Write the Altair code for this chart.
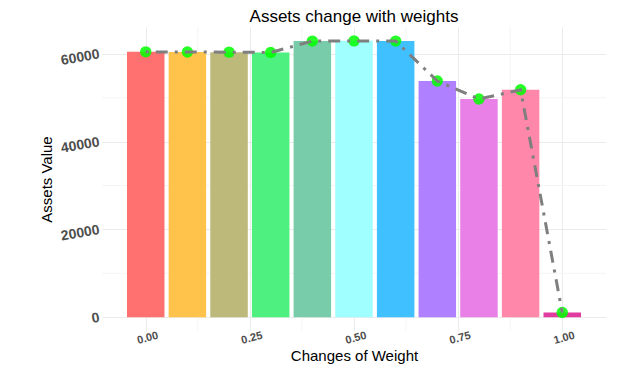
import altair as alt
import pandas as pd

weights = [0.0, 0.1, 0.2, 0.3, 0.4, 0.5, 0.6, 0.7, 0.8, 0.9, 1.0]
assets = [60450, 60400, 60380, 60300, 62900, 62950, 62900, 53800, 49700, 51800, 1050]
bar_colors = ['#FF7070', '#FFC24A', '#BDB97A', '#4EF080', '#78CCAA', '#A0FFFF',
              '#40C0FF', '#AF80FF', '#E880E8', '#FF88AA', '#E03CA0']
x_ticks = [0.0, 0.25, 0.5, 0.75, 1.0]
x_minor = [0.125, 0.375, 0.625, 0.875]
y_ticks = [0, 20000, 40000, 60000]
y_minor = [10000, 30000, 50000]

half = 0.045
df = pd.DataFrame({
    "w": weights,
    "lo": [w - half for w in weights],
    "hi": [w + half for w in weights],
    "v": assets,
    "c": bar_colors,
})

xs = alt.Scale(domain=[-0.105, 1.105], nice=False, zero=False)
ys = alt.Scale(domain=[-3148, 66108], nice=False, zero=False)

font = "Liberation Sans"

x_axis = alt.Axis(values=x_ticks, format=".2f", title="Changes of Weight",
                  grid=True, gridColor="#EBEBEB", domain=False, ticks=False,
                  labelAngle=345, labelAlign="center", labelFont=font, labelFontSize=11,
                  labelFontWeight="bold", labelColor="#4D4D4D", labelPadding=1,
                  titleFont=font, titleFontSize=15, titleFontWeight="normal",
                  titleColor="black", titleY=17, titleBaseline="top")
y_axis = alt.Axis(values=y_ticks, format="d", title="Assets Value",
                  grid=True, gridColor="#EBEBEB", domain=False, ticks=False,
                  labelAngle=350, labelFont=font, labelFontSize=14, labelFontWeight="bold",
                  labelColor="#4D4D4D", labelPadding=3,
                  titleFont=font, titleFontSize=15, titleFontWeight="normal",
                  titleColor="black", titlePadding=5)

xgrid_minor = alt.Chart(pd.DataFrame({"g": x_minor})).mark_rule(color="#F4F4F4", strokeWidth=1).encode(
    x=alt.X("g:Q", scale=xs, axis=x_axis))
ygrid_minor = alt.Chart(pd.DataFrame({"g": y_minor})).mark_rule(color="#F4F4F4", strokeWidth=1).encode(
    y=alt.Y("g:Q", scale=ys, axis=y_axis))

bars = alt.Chart(df).mark_bar().encode(
    x=alt.X("lo:Q", scale=xs, axis=x_axis),
    x2="hi:Q",
    y=alt.Y("v:Q", scale=ys, axis=y_axis),
    y2=alt.datum(0),
    color=alt.Color("c:N", scale=None),
)

points = alt.Chart(df).mark_circle(size=130, color="#00FF00", opacity=0.85).encode(
    x=alt.X("w:Q", scale=xs, axis=x_axis), y=alt.Y("v:Q", scale=ys, axis=y_axis))

line = alt.Chart(df).mark_line(color="#7F7F7F", strokeWidth=3, strokeDash=[3, 7, 12, 7]).encode(
    x=alt.X("w:Q", scale=xs, axis=x_axis), y=alt.Y("v:Q", scale=ys, axis=y_axis))

chart = alt.layer(xgrid_minor, ygrid_minor, bars, points, line).properties(
    width=504, height=304,
    background="white",
    title=alt.TitleParams("Assets change with weights", font=font, fontSize=17,
                          fontWeight="normal", color="black", anchor="middle", offset=1),
    autosize=alt.AutoSizeParams(type="none"),
    padding={"left": 94, "top": 19, "right": 4, "bottom": 38},
).configure_view(stroke=None)

chart.save("out.html", embed_options={"renderer": "svg", "actions": False})
